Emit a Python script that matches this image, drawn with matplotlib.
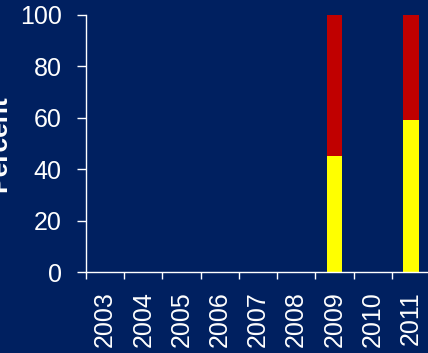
import numpy as np
import matplotlib.pyplot as plt

years = ['2003', '2004', '2005', '2006', '2007', '2008', '2009', '2010', '2011']
yellow_vals = [0, 0, 0, 0, 0, 0, 45, 0, 59]
red_vals = [0, 0, 0, 0, 0, 0, 55, 0, 41]

bg = '#002060'
plt.rcParams['font.family'] = ['Liberation Sans', 'DejaVu Sans']

fig = plt.figure(figsize=(4.28, 3.53), dpi=100, facecolor=bg)
ax = fig.add_axes([86 / 428, 1 - 272 / 353, 344 / 428, 257 / 353])
ax.set_facecolor(bg)

x = np.arange(len(years))
ax.bar(x, yellow_vals, width=0.4, color='#FFFF00')
ax.bar(x, red_vals, width=0.4, bottom=yellow_vals, color='#C00000')

ax.set_xlim(-0.5, len(years) - 0.5)
ax.set_ylim(0, 100)
ax.set_yticks([0, 20, 40, 60, 80, 100])

ax.set_xticks(x)
ax.set_xticklabels(years, rotation=90)
ax.set_xticks(np.arange(len(years) + 1) - 0.5, minor=True)
ax.tick_params(axis='x', which='major', length=0, pad=14, labelsize=18, colors='white')
ax.tick_params(axis='x', which='minor', length=5, width=1, color='white')
ax.tick_params(axis='y', length=6.5, width=1, labelsize=18, colors='white', pad=11)

for s in ['top', 'right']:
    ax.spines[s].set_visible(False)
for s in ['left', 'bottom']:
    ax.spines[s].set_color('white')
    ax.spines[s].set_linewidth(1)

# the label is mostly cut off at the left edge, as in the original
ax.set_ylabel('Percent', fontsize=19, fontweight='bold', color='white')
ax.yaxis.set_label_coords(-0.217, 0.5)

fig.savefig('out.png', dpi=100, facecolor=bg)
